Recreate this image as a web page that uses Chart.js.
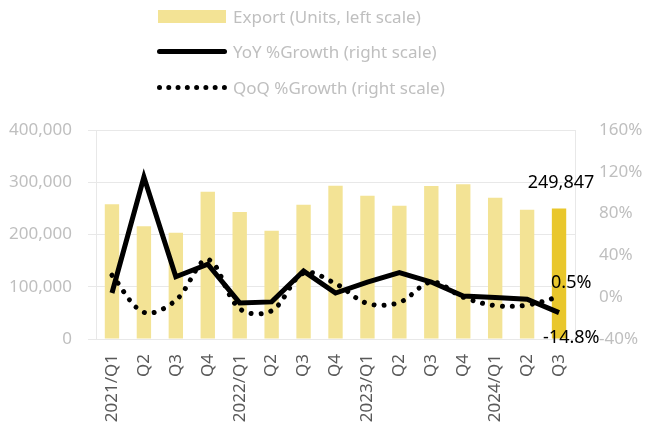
<!DOCTYPE html>
<html>
<head>
<meta charset="utf-8">
<script src="https://cdn.jsdelivr.net/npm/chart.js@4"></script>
<style>
  html, body { margin: 0; padding: 0; background: #fff; }
  #wrap { position: relative; width: 645px; height: 427px; }
  #legend { position: absolute; left: 157px; top: 0; font-family: "Noto Sans", sans-serif; font-size: 17px; color: #bfbfbf; }
  .item { position: absolute; left: 0; height: 20px; white-space: nowrap; display: flex; align-items: center; }
  .sw { width: 70px; margin-right: 6px; }
  .bar { height: 13px; background: #f3e395; width: 68px; margin-left: 1px; margin-right: 7px; }
  .solid { height: 5px; background: #000; border-radius: 3px; }
  .dots { height: 0; border-top: 5px dotted #000; }
</style>
</head>
<body>
<div id="wrap">
  <canvas id="chart" width="645" height="427"></canvas>
  <div id="legend"></div>
</div>
<script>
const categories = ['2021/Q1', 'Q2', 'Q3', 'Q4', '2022/Q1', 'Q2', 'Q3', 'Q4', '2023/Q1', 'Q2', 'Q3', 'Q4', '2024/Q1', 'Q2', 'Q3'];
const exportUnits = [258000, 216000, 203500, 282000, 243000, 207000, 257000, 293500, 274000, 255000, 293000, 296000, 270500, 247500, 249847];
const yoyGrowth = [4, 115, 19.5, 31.5, -5.5, -4.5, 25, 4, 14.5, 23.5, 14.5, 1.2, -0.3, -2, -14.8];
const qoqGrowth = [21, -14.5, -3, 36, -11, -13, 23, 13, -6, -5, 14.5, 0, -8, -7.5, 0.5];
const leftTicks = [0, 100000, 200000, 300000, 400000];
const rightTicks = [-40, 0, 40, 80, 120, 160];

const gray = '#bfbfbf';
const gridColor = '#e8e8e8';
const font = { family: '"Noto Sans", sans-serif', size: 17 };

const barColors = exportUnits.map((v, i) => i === exportUnits.length - 1 ? '#e9c72c' : '#f3e395');

// value labels on the last quarter
const lastLabels = {
  id: 'lastLabels',
  afterDatasetsDraw(chart) {
    const ctx = chart.ctx;
    const n = categories.length - 1;
    const bar = chart.getDatasetMeta(0).data[n];
    const yoy = chart.getDatasetMeta(1).data[n];
    const qoq = chart.getDatasetMeta(2).data[n];
    ctx.save();
    ctx.fillStyle = '#000';
    ctx.font = '18px "Noto Sans", sans-serif';
    ctx.textBaseline = 'middle';
    ctx.textAlign = 'center';
    ctx.fillText(exportUnits[n].toLocaleString('en-US'), bar.x + 2, bar.y - 26);
    ctx.textAlign = 'left';
    ctx.fillText(qoqGrowth[n].toFixed(1) + '%', qoq.x - 8, qoq.y - 14);
    ctx.fillText(yoyGrowth[n].toFixed(1) + '%', yoy.x - 16, yoy.y + 25);
    ctx.restore();
  }
};

const chart = new Chart(document.getElementById('chart'), {
  type: 'bar',
  data: {
    labels: categories,
    datasets: [
      {
        label: 'Export (Units, left scale)',
        data: exportUnits,
        backgroundColor: barColors,
        yAxisID: 'y',
        barPercentage: 0.45,
        categoryPercentage: 1,
        order: 3,
      },
      {
        type: 'line',
        label: 'YoY %Growth (right scale)',
        data: yoyGrowth,
        borderColor: '#000',
        borderWidth: 5,
        pointRadius: 0,
        tension: 0,
        yAxisID: 'y1',
        order: 1,
      },
      {
        type: 'line',
        label: 'QoQ %Growth (right scale)',
        data: qoqGrowth,
        borderColor: '#000',
        borderWidth: 5,
        borderDash: [0.001, 10],
        borderCapStyle: 'round',
        pointRadius: 0,
        tension: 0.35,
        yAxisID: 'y1',
        order: 2,
      },
    ],
  },
  options: {
    responsive: false,
    animation: false,
    layout: { padding: { top: 130, left: 0, right: 0, bottom: 0 } },
    plugins: { legend: { display: false }, tooltip: { enabled: false } },
    scales: {
      x: {
        grid: { display: false },
        border: { display: true, color: gridColor },
        ticks: { color: '#595959', font, maxRotation: 90, minRotation: 90, padding: 7 },
        afterFit: s => { s.height = 88; },
      },
      y: {
        position: 'left',
        min: 0, max: 400000,
        afterBuildTicks: s => { s.ticks = leftTicks.map(v => ({ value: v })); },
        ticks: { color: gray, font, padding: 16, callback: v => v.toLocaleString('en-US') },
        grid: { color: gridColor, tickLength: 8, tickColor: gridColor },
        border: { color: gridColor },
        afterFit: s => { s.width = 96; },
      },
      y1: {
        position: 'right',
        min: -40, max: 160,
        afterBuildTicks: s => { s.ticks = rightTicks.map(v => ({ value: v })); },
        ticks: { color: gray, font, padding: 24, callback: v => v + '%' },
        grid: { drawOnChartArea: false, drawTicks: false },
        border: { color: gridColor },
        afterFit: s => { s.width = 70; },
      },
    },
  },
  plugins: [lastLabels],
});

// legend built from the datasets
const legend = document.getElementById('legend');
const tops = [6, 41, 77];
chart.data.datasets.forEach((ds, i) => {
  const item = document.createElement('div');
  item.className = 'item';
  item.style.top = tops[i] + 'px';
  const sw = document.createElement('div');
  sw.className = i === 0 ? 'bar' : 'sw ' + (i === 1 ? 'solid' : 'dots');
  item.appendChild(sw);
  item.appendChild(document.createTextNode(ds.label));
  legend.appendChild(item);
});
</script>
</body>
</html>
